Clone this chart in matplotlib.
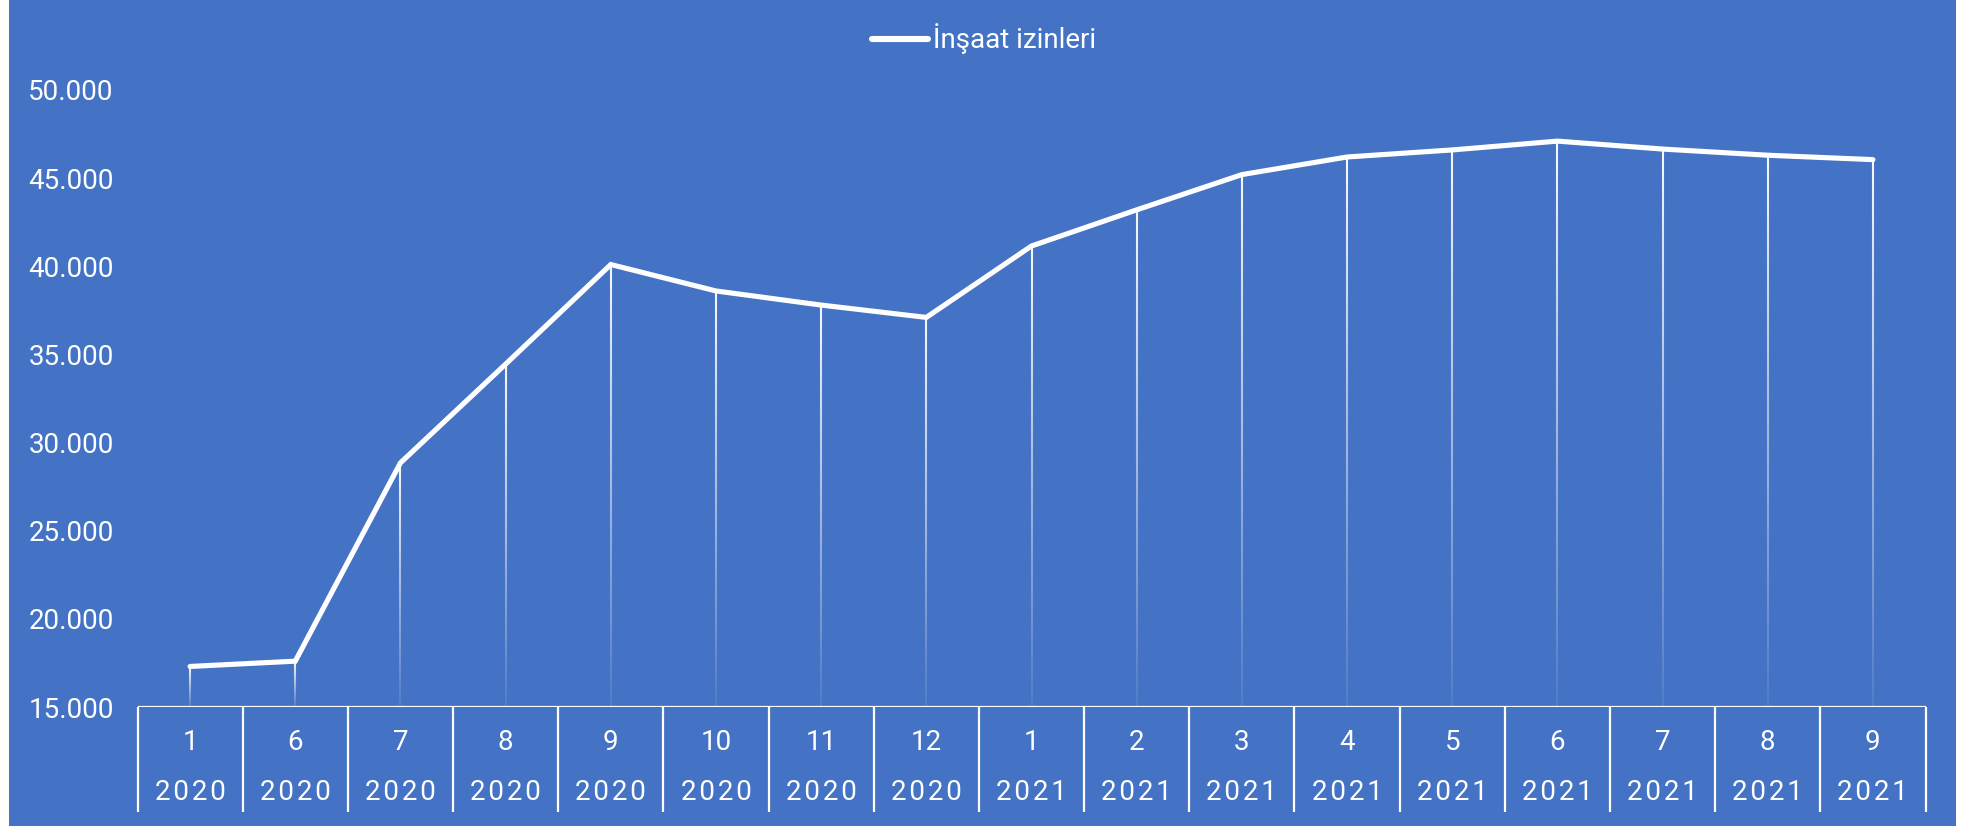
import numpy as np
import matplotlib
matplotlib.use("Agg")
import matplotlib.pyplot as plt
from matplotlib.collections import LineCollection

plt.rcParams['font.family'] = ['Roboto', 'DejaVu Sans']

# ---- data ----
months = ["1", "6", "7", "8", "9", "10", "11", "12", "1", "2", "3", "4", "5", "6", "7", "8", "9"]
years = ["2020"] * 8 + ["2021"] * 9
values = [17300, 17600, 28850, 34450, 40100, 38600, 37800, 37100,
          41150, 43200, 45200, 46200, 46600, 47100, 46650, 46300, 46050]
series_name = "İnşaat izinleri"
yticks = [15000, 20000, 25000, 30000, 35000, 40000, 45000, 50000]

BLUE = "#4472C4"
W, H = 1972, 826
FW = "normal"

fig = plt.figure(figsize=(W / 100, H / 100), dpi=100)
fig.patch.set_facecolor("white")
bg = fig.add_axes([9 / W, 0, (1956 - 9) / W, 1], zorder=-10)
bg.set_facecolor(BLUE)
bg.set_xticks([]); bg.set_yticks([])
for s in bg.spines.values():
    s.set_visible(False)

ax_left, ax_right, ax_bottom, ax_top = 137.5, 1925.5, 707, 90
ax = fig.add_axes([ax_left / W, (H - ax_bottom) / H, (ax_right - ax_left) / W, (ax_bottom - ax_top) / H], zorder=1)
ax.patch.set_alpha(0)
n = len(values)
ax.set_xlim(0, n)
ax.set_ylim(15000, 50000)
x = np.arange(n) + 0.5

# drop lines with fading gradient
segs, cols = [], []
N = 60
for xi, v in zip(x, values):
    ys = np.linspace(v, 15000, N + 1)
    for k in range(N):
        segs.append([(xi, ys[k]), (xi, ys[k + 1])])
        a = 0.95 - 0.87 * (k / (N - 1))
        cols.append((1, 1, 1, a))
ax.add_collection(LineCollection(segs, colors=cols, linewidths=1.5, zorder=2))

ax.plot(x, values, color="white", lw=3.7, solid_capstyle="round",
        solid_joinstyle="miter", zorder=3, label=series_name)

for s in ax.spines.values():
    s.set_visible(False)
ax.axhline(15000, color="white", lw=1.6, zorder=4)

# category separators
bt = ax.get_xaxis_transform()
sep_depth = (812 - 707) / (ax_bottom - ax_top)
ax.vlines(np.arange(n + 1), 0, -sep_depth, transform=bt, colors="white", lw=1.6, clip_on=False)

ax.set_xticks([])
ax.set_yticks(yticks)
ax.set_yticklabels([f"{t:,}".replace(",", ".") for t in yticks])
ax.tick_params(axis="y", length=0, pad=17, labelcolor="white", labelsize=20)

row1 = -(742 - 707) / (ax_bottom - ax_top)
row2 = -(793 - 707) / (ax_bottom - ax_top)
for xi, m, yv in zip(x, months, years):
    ax.text(xi, row1, m, transform=bt, ha="center", va="center", color="white",
            fontsize=20, fontweight=FW)
    ax.text(xi, row2, "\u200a".join(yv), transform=bt, ha="center", va="center", color="white",
            fontsize=20, fontweight=FW)

leg = fig.legend(loc="center", bbox_to_anchor=(984.5 / W, 1 - 39 / H), frameon=False,
                 handlelength=2.0, handletextpad=0.2, labelcolor="white",
                 prop={"weight": FW, "size": 20})
for h in leg.get_lines():
    h.set_linewidth(4.4)
    h.set_solid_capstyle("round")

fig.savefig("out.png", dpi=100, facecolor=fig.get_facecolor())
